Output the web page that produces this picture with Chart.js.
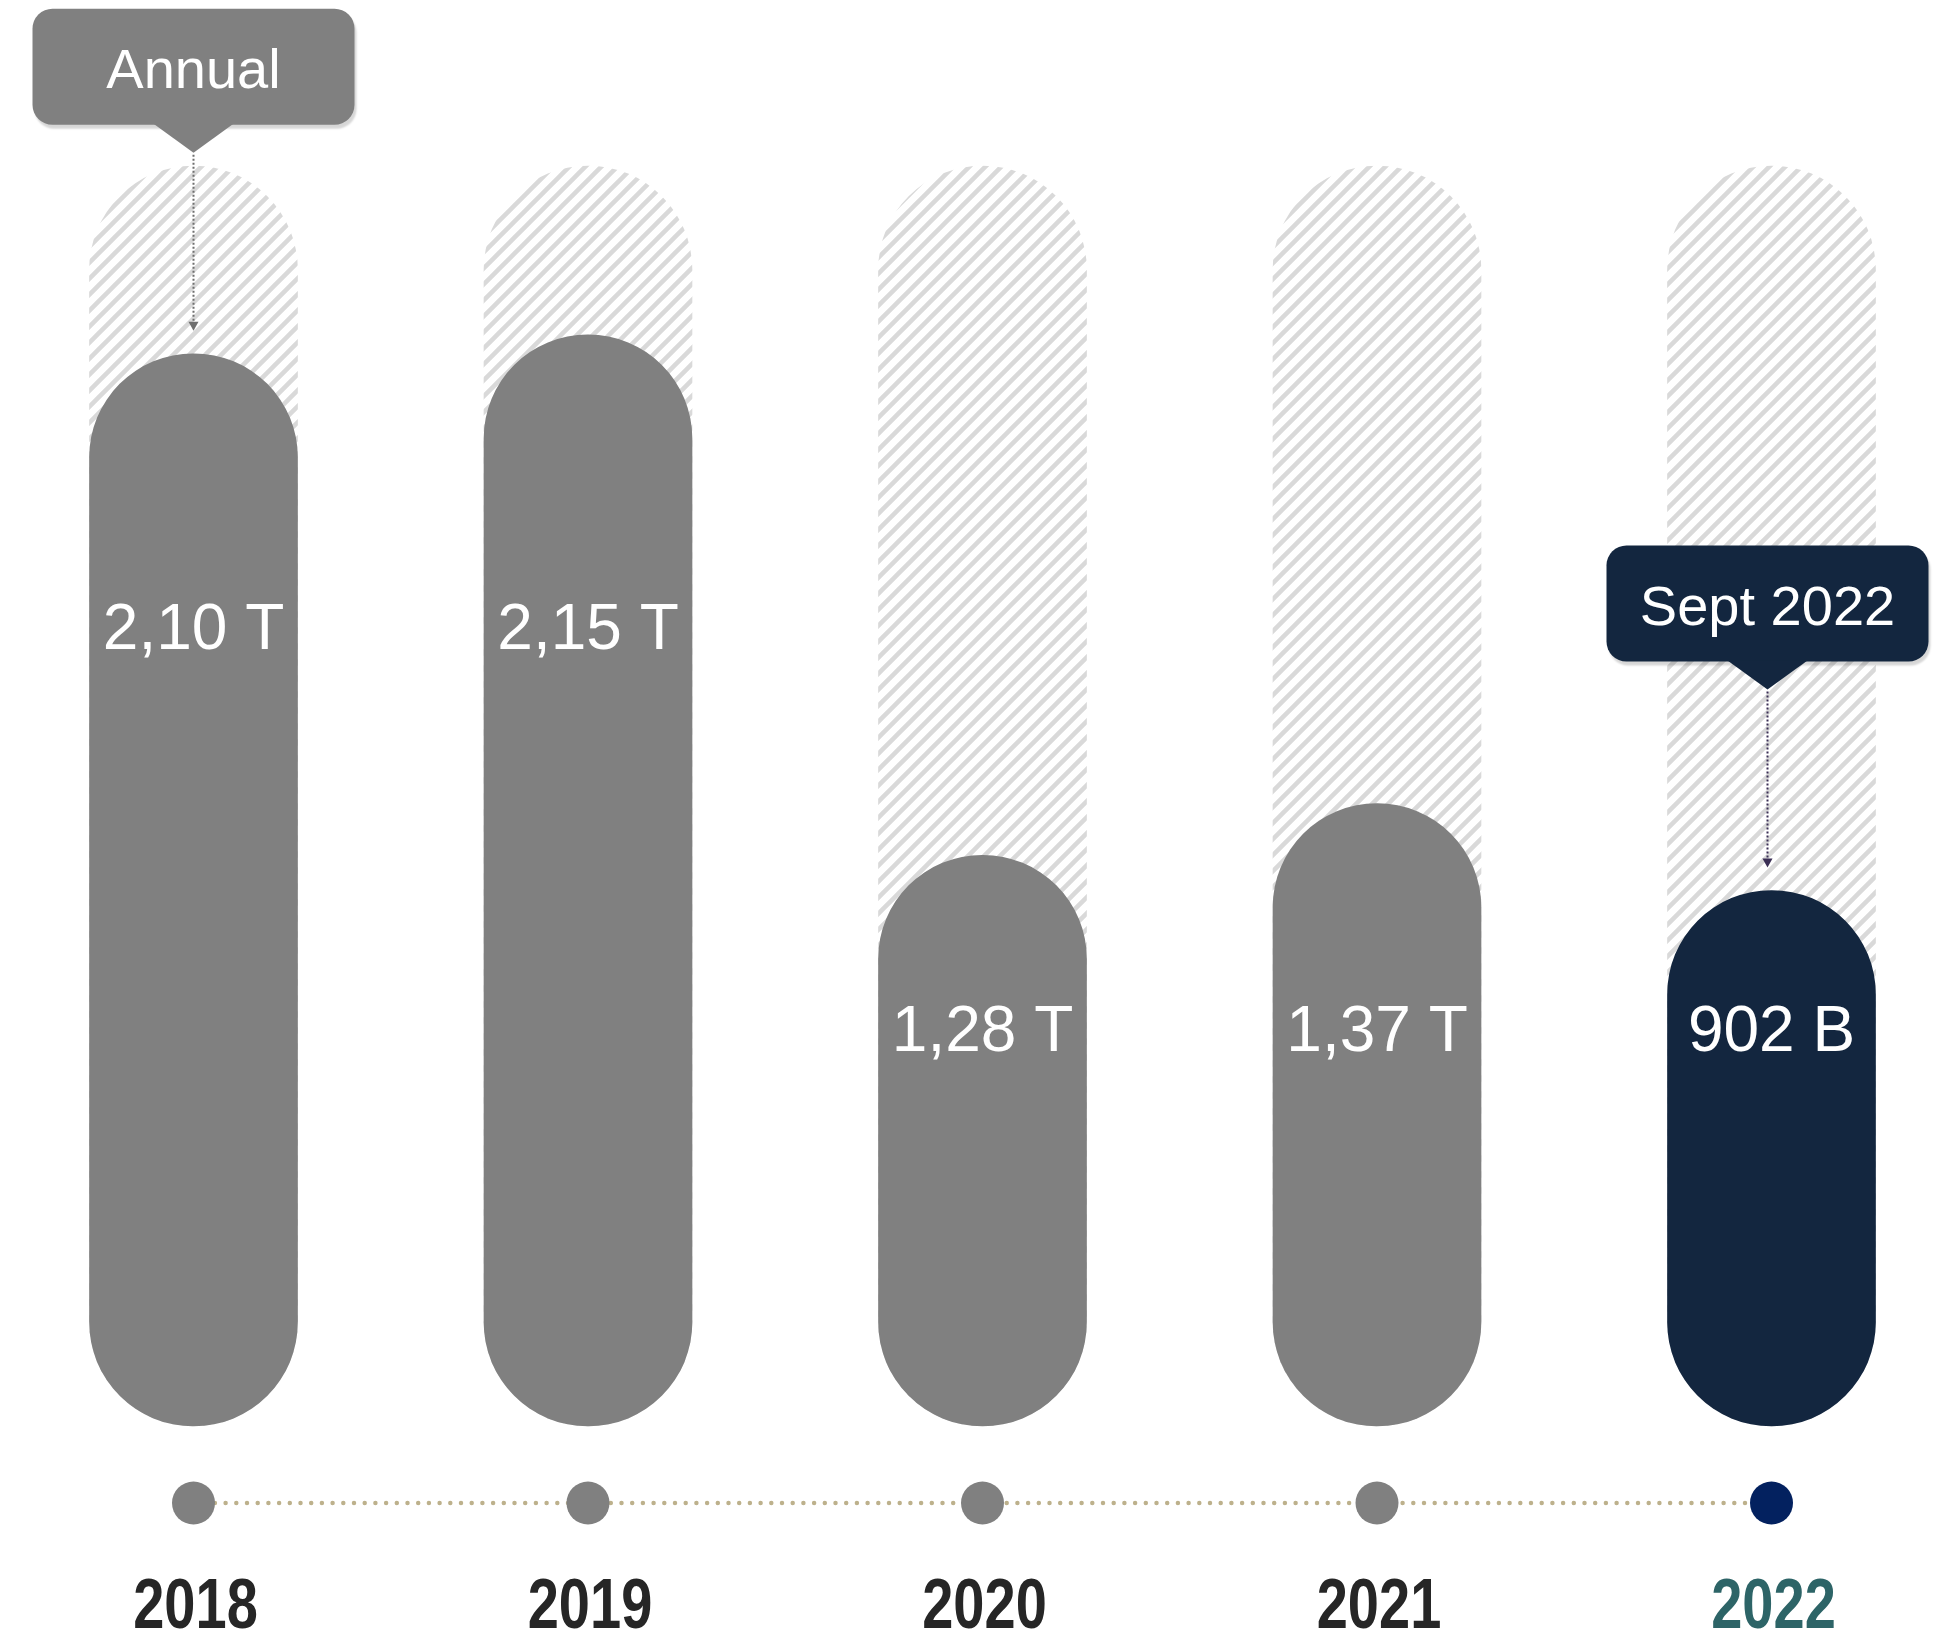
<!DOCTYPE html>
<html>
<head>
<meta charset="utf-8">
<script src="https://cdn.jsdelivr.net/npm/chart.js@4"></script>
<style>
    html, body { margin: 0; padding: 0; background: #ffffff; }
    canvas { display: block; }
</style>
</head>
<body>
<canvas id="valueChart" width="1933" height="1639"></canvas>
<script>
// categories and values
const years = ['2018', '2019', '2020', '2021', '2022'];
const valueLabels = ['2,10 T', '2,15 T', '1,28 T', '1,37 T', '902 B'];
// bar heights as drawn (share of the striped track, the bars are not to scale)
const barLevels = [0.851, 0.866, 0.453, 0.494, 0.425];
const trackLevels = [1, 1, 1, 1, 1];
const calloutTexts = ['Annual', null, null, null, 'Sept 2022'];

const barColors = ['#808080', '#808080', '#808080', '#808080', '#13263f'];
const dotColors = ['#808080', '#808080', '#808080', '#808080', '#03215f'];
const yearColors = ['#262626', '#262626', '#262626', '#262626', '#2d6467'];
const calloutColors = ['#808080', null, null, null, '#13263f'];
const arrowColors = ['#6f6f6f', null, null, null, '#3b2f55'];

document.addEventListener('DOMContentLoaded', function () {
    const canvas = document.getElementById('valueChart');
    const ctx = canvas.getContext('2d');

    // diagonal stripes for the track behind each bar
    function makeHatch() {
        const s = 16;
        const tile = document.createElement('canvas');
        tile.width = s;
        tile.height = s;
        const g = tile.getContext('2d');
        g.strokeStyle = '#d9d9d9';
        g.lineWidth = 4.5;
        g.beginPath();
        g.moveTo(0, s); g.lineTo(s, 0);
        g.moveTo(-s / 2, s / 2); g.lineTo(s / 2, -s / 2);
        g.moveTo(s / 2, s * 1.5); g.lineTo(s * 1.5, s / 2);
        g.stroke();
        return ctx.createPattern(tile, 'repeat');
    }

    function roundRect(c, x, y, w, h, r) {
        c.beginPath();
        c.moveTo(x + r, y);
        c.lineTo(x + w - r, y);
        c.arcTo(x + w, y, x + w, y + r, r);
        c.lineTo(x + w, y + h - r);
        c.arcTo(x + w, y + h, x + w - r, y + h, r);
        c.lineTo(x + r, y + h);
        c.arcTo(x, y + h, x, y + h - r, r);
        c.lineTo(x, y + r);
        c.arcTo(x, y, x + r, y, r);
        c.closePath();
    }

    const decorations = {
        id: 'decorations',
        afterDatasetsDraw(chart) {
            const c = chart.ctx;
            const xs = chart.scales.x;
            const ys = chart.scales.y;
            const area = chart.chartArea;

            // value labels: each row sits at 3/4 of the shortest bar of its group
            const tall = barLevels.filter(v => v > 0.6);
            const short = barLevels.filter(v => v <= 0.6);
            c.save();
            c.fillStyle = '#ffffff';
            c.font = '64px "Liberation Sans", Arial, sans-serif';
            c.textAlign = 'center';
            c.textBaseline = 'alphabetic';
            barLevels.forEach(function (v, i) {
                const row = (v > 0.6 ? Math.min(...tall) : Math.min(...short)) * 0.75;
                const y = ys.getPixelForValue(row);
                c.fillText(valueLabels[i], xs.getPixelForValue(i), y + 27);
            });
            c.restore();

            // callouts with dotted arrows
            calloutTexts.forEach(function (text, i) {
                if (!text) return;
                const cx = xs.getPixelForValue(i) - (i === years.length - 1 ? 4 : 0);
                const top = ys.getPixelForValue(barLevels[i]);
                const tipY = top - 201;
                const boxBottom = tipY - 28;
                const boxW = 322, boxH = 116;

                c.save();
                c.shadowColor = 'rgba(0, 0, 0, 0.16)';
                c.shadowOffsetX = 2;
                c.shadowOffsetY = 4;
                c.shadowBlur = 2;
                c.fillStyle = calloutColors[i];
                roundRect(c, cx - boxW / 2, boxBottom - boxH, boxW, boxH, 20);
                c.fill();
                c.shadowColor = 'transparent';
                c.beginPath();
                c.moveTo(cx - 40, boxBottom - 1);
                c.lineTo(cx + 40, boxBottom - 1);
                c.lineTo(cx, tipY);
                c.closePath();
                c.fill();

                c.fillStyle = '#ffffff';
                c.font = '56px "Liberation Sans", Arial, sans-serif';
                c.textAlign = 'center';
                c.textBaseline = 'alphabetic';
                c.fillText(text, cx, boxBottom - boxH / 2 + 21);

                const headY = top - 23;
                c.strokeStyle = arrowColors[i];
                c.lineWidth = 2;
                c.setLineDash([2, 2]);
                c.beginPath();
                c.moveTo(cx, tipY + 2);
                c.lineTo(cx, headY - 8);
                c.stroke();
                c.setLineDash([]);
                c.fillStyle = arrowColors[i];
                c.beginPath();
                c.moveTo(cx - 5, headY - 9);
                c.lineTo(cx + 5, headY - 9);
                c.lineTo(cx, headY);
                c.closePath();
                c.fill();
                c.restore();
            });

            // timeline: dotted line, dots and years
            const lineY = area.bottom + 77;
            const first = xs.getPixelForValue(0);
            const last = xs.getPixelForValue(years.length - 1);
            c.save();
            c.strokeStyle = '#bdb18c';
            c.lineWidth = 4.5;
            c.lineCap = 'round';
            c.setLineDash([0, 10.7]);
            c.beginPath();
            c.moveTo(first, lineY);
            c.lineTo(last, lineY);
            c.stroke();
            c.setLineDash([]);

            years.forEach(function (year, i) {
                const x = xs.getPixelForValue(i);
                c.fillStyle = dotColors[i];
                c.beginPath();
                c.arc(x, lineY, 21.5, 0, Math.PI * 2);
                c.fill();

                c.save();
                c.translate(x + 2, area.bottom + 202);
                c.scale(0.8, 1);
                c.fillStyle = yearColors[i];
                c.font = 'bold 70px "Liberation Sans", Arial, sans-serif';
                c.textAlign = 'center';
                c.textBaseline = 'alphabetic';
                c.fillText(year, 0, 0);
                c.restore();
            });
            c.restore();
        }
    };

    new Chart(ctx, {
        type: 'bar',
        data: {
            labels: years,
            datasets: [{
                label: 'Value',
                data: barLevels,
                backgroundColor: barColors,
                order: 1
            }, {
                label: 'Track',
                data: trackLevels,
                backgroundColor: makeHatch(),
                order: 2
            }]
        },
        options: {
            responsive: false,
            animation: false,
            devicePixelRatio: 1,
            layout: {
                padding: { left: 193.5, right: 161.5, top: 166, bottom: 213 }
            },
            datasets: {
                bar: {
                    grouped: false,
                    barThickness: 208,
                    borderRadius: 104,
                    borderSkipped: false,
                    clip: false
                }
            },
            plugins: {
                legend: { display: false },
                tooltip: { enabled: false }
            },
            scales: {
                x: { display: false, offset: false },
                y: { display: false, min: 0, max: 1 }
            }
        },
        plugins: [decorations]
    });
});
</script>
</body>
</html>
